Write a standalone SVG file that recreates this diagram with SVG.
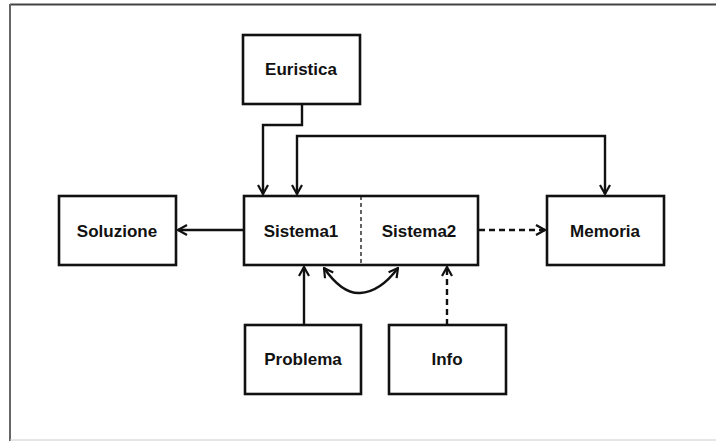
<svg xmlns="http://www.w3.org/2000/svg" width="716" height="441" viewBox="0 0 716 441">
<style>
.box{fill:#fff;stroke:#111;stroke-width:2.6}
.lbl{font-family:"Liberation Sans",Arial,sans-serif;font-weight:bold;font-size:17px;fill:#111;text-anchor:middle}
.c{fill:none;stroke:#111;stroke-width:2.4}
.d{stroke-dasharray:6,4}
</style>
<defs>
<marker id="ah" viewBox="0 0 12 12" refX="11" refY="6" markerWidth="12" markerHeight="12" markerUnits="userSpaceOnUse" orient="auto-start-reverse">
<path d="M2,1 L11,6 L2,11" fill="none" stroke="#111" stroke-width="2.2"/>
</marker>
</defs>
<rect width="716" height="441" fill="#fff"/>
<g id="frame">
<line x1="10" y1="4.5" x2="716" y2="4.5" stroke="#444" stroke-width="2"/>
<line x1="10" y1="4" x2="10" y2="441" stroke="#666" stroke-width="2"/>
<line x1="10" y1="440" x2="716" y2="440" stroke="#ccc" stroke-width="1"/>
</g>
<g id="connectors">
<polyline class="c" points="302,104 302,125 263,125 263,194" marker-end="url(#ah)"/>
<polyline class="c" points="297,194 297,136 605,136 605,194" marker-start="url(#ah)" marker-end="url(#ah)"/>
<line class="c" x1="244" y1="230" x2="178" y2="230" marker-end="url(#ah)"/>
<line class="c d" x1="479" y1="230" x2="545" y2="230" marker-end="url(#ah)"/>
<line class="c" x1="304" y1="325" x2="304" y2="267" marker-end="url(#ah)"/>
<line class="c d" x1="447" y1="325" x2="447" y2="267" marker-end="url(#ah)"/>
<path class="c" d="M324,268 Q342,294 360,293 Q380,292 398,268" marker-start="url(#ah)" marker-end="url(#ah)"/>
</g>
<g id="euristica"><rect class="box" x="243" y="35" width="117" height="69"/><text class="lbl" x="301" y="75">Euristica</text></g>
<g id="sistema"><rect class="box" x="244" y="196" width="234" height="69"/>
<line x1="361" y1="196" x2="361" y2="265" stroke="#111" stroke-width="1.3" stroke-dasharray="4,3"/>
<text class="lbl" x="301" y="237">Sistema1</text><text class="lbl" x="419" y="237">Sistema2</text></g>
<g id="soluzione"><rect class="box" x="59" y="196" width="117" height="69"/><text class="lbl" x="117" y="237">Soluzione</text></g>
<g id="memoria"><rect class="box" x="547" y="196" width="117" height="69"/><text class="lbl" x="605" y="237">Memoria</text></g>
<g id="problema"><rect class="box" x="245" y="325" width="116" height="69"/><text class="lbl" x="303" y="365">Problema</text></g>
<g id="info"><rect class="box" x="389" y="325" width="117" height="69"/><text class="lbl" x="447" y="365">Info</text></g>
</svg>
